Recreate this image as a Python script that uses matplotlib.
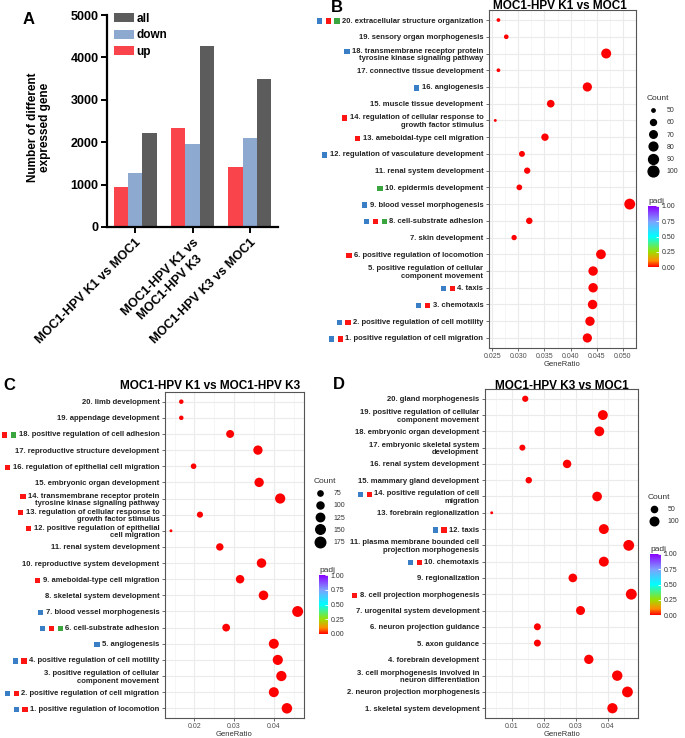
import numpy as np
import matplotlib
matplotlib.use('Agg')
import matplotlib.pyplot as plt
from matplotlib.colors import LinearSegmentedColormap, Normalize
from matplotlib.cm import ScalarMappable
from matplotlib.lines import Line2D
from matplotlib.patches import Rectangle
from matplotlib.ticker import MultipleLocator, FormatStrFormatter

plt.rcParams['font.family'] = ['Liberation Sans', 'DejaVu Sans']

# ---------------- panel A : number of DEGs ----------------
groups = ['MOC1-HPV K1 vs MOC1', 'MOC1-HPV K1 vs\nMOC1-HPV K3', 'MOC1-HPV K3 vs MOC1']
up = [950, 2330, 1410]
down = [1270, 1960, 2090]
all_ = [2220, 4270, 3490]

# ---------------- panel B : K1 vs MOC1 ----------------
labels_B = ['1. positive regulation of cell migration',
            '2. positive regulation of cell motility',
            '3. chemotaxis',
            '4. taxis',
            '5. positive regulation of cellular\ncomponent movement',
            '6. positive regulation of locomotion',
            '7. skin development',
            '8. cell-substrate adhesion',
            '9. blood vessel morphogenesis',
            '10. epidermis development',
            '11. renal system development',
            '12. regulation of vasculature development',
            '13. ameboidal-type cell migration',
            '14. regulation of cellular response to\ngrowth factor stimulus',
            '15. muscle tissue development',
            '16. angiogenesis',
            '17. connective tissue development',
            '18. transmembrane receptor protein\ntyrosine kinase signaling pathway',
            '19. sensory organ morphogenesis',
            '20. extracellular structure organization']
ratio_B = [0.0432, 0.0437, 0.0442, 0.0443, 0.0443, 0.0458, 0.0292, 0.0321, 0.0513, 0.0302,
           0.0317, 0.0307, 0.0351, 0.0256, 0.0362, 0.0432, 0.0262, 0.0468, 0.0277, 0.0262]
count_B = [84, 85, 86, 86, 86, 89, 57, 63, 101, 59, 62, 60, 69, 49, 71, 84, 51, 91, 54, 51]
marks_B = ['br', 'br', 'br', 'br', '', 'r', '', 'brg', 'b', 'g',
           '', 'b', 'r', 'r', '', 'b', '', 'b', '', 'brg']

# ---------------- panel C : K1 vs K3 ----------------
labels_C = ['1. positive regulation of locomotion',
            '2. positive regulation of cell migration',
            '3. positive regulation of cellular\ncomponent movement',
            '4. positive regulation of cell motility',
            '5. angiogenesis',
            '6. cell-substrate adhesion',
            '7. blood vessel morphogenesis',
            '8. skeletal system development',
            '9. ameboidal-type cell migration',
            '10. reproductive system development',
            '11. renal system development',
            '12. positive regulation of epithelial\ncell migration',
            '13. regulation of cellular response to\ngrowth factor stimulus',
            '14. transmembrane receptor protein\ntyrosine kinase signaling pathway',
            '15. embryonic organ development',
            '16. regulation of epithelial cell migration',
            '17. reproductive structure development',
            '18. positive regulation of cell adhesion',
            '19. appendage development',
            '20. limb development']
ratio_C = [0.0433, 0.0400, 0.0419, 0.0410, 0.0400, 0.0280, 0.0460, 0.0374, 0.0315, 0.0369,
           0.0264, 0.0141, 0.0214, 0.0416, 0.0363, 0.0198, 0.0360, 0.0290, 0.0167, 0.0167]
count_C = [173, 160, 167, 164, 160, 112, 184, 150, 126, 148, 106, 56, 86, 166, 145, 79, 144, 116, 67, 67]
marks_C = ['br', 'br', '', 'br', 'b', 'brg', 'b', '', 'r', '',
           '', 'r', 'r', 'r', '', 'r', '', 'brg', '', '']

# ---------------- panel D : K3 vs MOC1 ----------------
labels_D = ['1. skeletal system development',
            '2. neuron projection morphogenesis',
            '3. cell morphogenesis involved in\nneuron differentiation',
            '4. forebrain development',
            '5. axon guidance',
            '6. neuron projection guidance',
            '7. urogenital system development',
            '8. cell projection morphogenesis',
            '9. regionalization',
            '10. chemotaxis',
            '11. plasma membrane bounded cell\nprojection morphogenesis',
            '12. taxis',
            '13. forebrain regionalization',
            '14. positive regulation of cell\nmigration',
            '15. mammary gland development',
            '16. renal system development',
            '17. embryonic skeletal system\ndevelopment',
            '18. embryonic organ development',
            '19. positive regulation of cellular\ncomponent movement',
            '20. gland morphogenesis']
ratio_D = [0.0415, 0.0462, 0.0430, 0.0341, 0.0180, 0.0180, 0.0315, 0.0474, 0.0291, 0.0388,
           0.0466, 0.0388, 0.0037, 0.0367, 0.0153, 0.0273, 0.0133, 0.0374, 0.0385, 0.0142]
count_D = [145, 162, 150, 119, 63, 63, 110, 166, 102, 136, 163, 136, 13, 128, 54, 96, 47, 131, 135, 50]
marks_D = ['', '', '', '', '', '', '', 'r', '', 'br',
           '', 'br', '', 'br', '', '', '', '', '', '']

W, H = 685, 738
fig = plt.figure(figsize=(W / 100, H / 100), dpi=100)
cmap = LinearSegmentedColormap.from_list('padj', [(0, '#FF0000'), (0.1, '#FF8C00'), (0.25, '#9BE000'),
                                                  (0.5, '#00FFFF'), (0.75, '#7FA0FF'), (1, '#8A00FF')])
sq_col = {'b': '#3A7EC6', 'r': '#FF1414', 'g': '#3BA53F'}


def box(x0, y0, x1, y1):
    # pixel box (top-left origin) -> figure fraction
    return [x0 / W, 1 - y1 / H, (x1 - x0) / W, (y1 - y0) / H]


def dot_d(c, lo, hi):
    # ggplot-ish size scale, returns diameter in points
    size = np.sqrt(1 + 35 * (np.asarray(c, float) - lo) / (hi - lo))
    return (1.6 * size + 1.3) * 0.72


# ---------------- A ----------------
axA = fig.add_axes(box(107, 15, 278, 227))
x = np.arange(len(groups))
bw = 0.25
b1 = axA.bar(x - bw, up, bw, color='#F9444B', label='up')
b2 = axA.bar(x, down, bw, color='#8DA9CF', label='down')
b3 = axA.bar(x + bw, all_, bw, color='#5C5C5C', label='all')
axA.set_xlim(-0.49, 2.49)
axA.set_ylim(0, 5000)
axA.set_yticks(range(0, 5001, 1000))
axA.set_xticks(x)
axA.set_xticklabels(groups, rotation=45, ha='right', rotation_mode='anchor', fontsize=9, fontweight='bold', multialignment='center')
for t in axA.get_yticklabels():
    t.set_fontweight('bold')
axA.tick_params(axis='y', labelsize=9, length=4, width=1.4, pad=2)
axA.tick_params(axis='x', length=4, width=1.4, pad=3)
for s in ['top', 'right']:
    axA.spines[s].set_visible(False)
for s in ['left', 'bottom']:
    axA.spines[s].set_linewidth(1.6)
axA.set_ylabel('Number of different\nexpressed gene', fontsize=8.5, fontweight='bold', linespacing=1.0)
axA.yaxis.set_label_coords(-0.33, 0.47)
axA.legend([b3, b2, b1], ['all', 'down', 'up'], loc='upper left', bbox_to_anchor=(0.04, 1.01),
           frameon=False, prop={'size': 8.5, 'weight': 'bold'}, handlelength=1.7, handleheight=0.8,
           labelspacing=0.38, handletextpad=0.2, borderpad=0, borderaxespad=0)


def dotplot(ax, ratio, count, labels, xmaj, xfmt, xlim):
    y = np.arange(1, len(ratio) + 1)
    lo, hi = min(count), max(count)
    ax.scatter(ratio, y, s=dot_d(count, lo, hi) ** 2, color=cmap(0.0), zorder=3, linewidths=0)
    ax.set_ylim(0.4, 20.6)
    ax.set_xlim(*xlim)
    ax.tick_params(axis='x', labelsize=5, labelcolor='#4D4D4D', pad=1.2)
    ax.tick_params(which='major', length=2.5, width=0.5, color='#333333')
    ax.tick_params(axis='y', pad=1.5)
    ax.tick_params(which='minor', length=0)
    ax.set_yticks(y)
    ax.set_yticklabels(labels, fontsize=5.5, fontweight='bold', color='#222222', linespacing=1.1)
    ax.xaxis.set_major_locator(MultipleLocator(xmaj))
    ax.xaxis.set_minor_locator(MultipleLocator(xmaj / 2))
    ax.xaxis.set_major_formatter(FormatStrFormatter(xfmt))
    ax.grid(which='major', color='#EBEBEB', lw=0.8)
    ax.grid(which='minor', axis='x', color='#F3F3F3', lw=0.5)
    ax.set_axisbelow(True)
    for s in ax.spines.values():
        s.set_color('#555555')
        s.set_linewidth(0.8)
    ax.set_xlabel('GeneRatio', fontsize=5.5, color='#333333', labelpad=0.5)
    return lo, hi


def count_legend(ax, breaks, lo, hi, px, py):
    hs = [Line2D([], [], ls='', marker='o', color='black', markersize=dot_d(b, lo, hi)) for b in breaks]
    leg = ax.legend(hs, [str(b) for b in breaks], title='Count', loc='upper left',
                    bbox_to_anchor=(px / W, 1 - py / H), bbox_transform=fig.transFigure, frameon=False,
                    fontsize=5, title_fontsize=6, labelspacing=0.75, handletextpad=1.0, handlelength=1.8,
                    borderpad=0, borderaxespad=0, alignment='left')
    for t in leg.get_texts():
        t.set_color('#333333')
    leg.get_title().set_color('#333333')


def padj_bar(x0, y0, x1, y1):
    cax = fig.add_axes(box(x0, y0, x1, y1))
    cb = fig.colorbar(ScalarMappable(Normalize(0, 1), cmap), cax=cax, ticks=[0, 0.25, 0.5, 0.75, 1])
    cb.ax.set_yticklabels(['0.00', '0.25', '0.50', '0.75', '1.00'])
    cb.outline.set_visible(False)
    cax.tick_params(length=2, width=0.6, color='white', labelsize=5, labelcolor='#333333', pad=2, direction='in')
    cax.set_title('padj', fontsize=6, loc='left', pad=2, color='#333333')


# ---------------- B ----------------
axB = fig.add_axes(box(489, 10, 636, 348))
loB, hiB = dotplot(axB, ratio_B, count_B, labels_B, 0.005, '%.3f', (0.0244, 0.0525))
count_legend(axB, [50, 60, 70, 80, 90, 100], loB, hiB, 647, 95)
padj_bar(648, 206, 659, 267)

# ---------------- C ----------------
axC = fig.add_axes(box(165, 392, 304, 718))
loC, hiC = dotplot(axC, ratio_C, count_C, labels_C, 0.01, '%.2f', (0.0126, 0.0476))
count_legend(axC, [75, 100, 125, 150, 175], loC, hiC, 314, 478)
padj_bar(319, 575, 328, 634)

# ---------------- D ----------------
axD = fig.add_axes(box(485, 389, 638, 718))
loD, hiD = dotplot(axD, ratio_D, count_D, labels_D, 0.01, '%.2f', (0.0016, 0.0495))
count_legend(axD, [50, 100], loD, hiD, 648, 494)
padj_bar(650, 554, 661, 615)

# titles and panel letters
fig.text(560 / W, 1 - 6 / H, 'MOC1-HPV K1 vs MOC1', ha='center', va='center', fontsize=8.5, fontweight='bold')
fig.text(210 / W, 1 - 386 / H, 'MOC1-HPV K1 vs MOC1-HPV K3', ha='center', va='center', fontsize=8.5, fontweight='bold')
fig.text(562 / W, 1 - 386 / H, 'MOC1-HPV K3 vs MOC1', ha='center', va='center', fontsize=8.5, fontweight='bold')
for let, px, py in [('A', 29, 20), ('B', 337, 8), ('C', 9, 385), ('D', 339, 384)]:
    fig.text(px / W, 1 - py / H, let, ha='center', va='center', fontsize=12, fontweight='bold')

# coloured squares in front of the GO term labels
fig.canvas.draw()
r = fig.canvas.get_renderer()
for ax, marks in ((axB, marks_B), (axC, marks_C), (axD, marks_D)):
    for lab, m in zip(ax.get_yticklabels(), marks):
        if not m:
            continue
        bb = lab.get_window_extent(r)
        n = lab.get_text().count('\n') + 1
        yc = bb.y1 - bb.height / n / 2
        for k, c in enumerate(reversed(m)):
            xr = bb.x0 - 2.5 - k * 8.8
            fig.add_artist(Rectangle(((xr - 5.2) / W, (yc - 2.6) / H), 5.2 / W, 5.2 / H,
                                     transform=fig.transFigure, color=sq_col[c], lw=0))

fig.savefig('out.png', dpi=100)
